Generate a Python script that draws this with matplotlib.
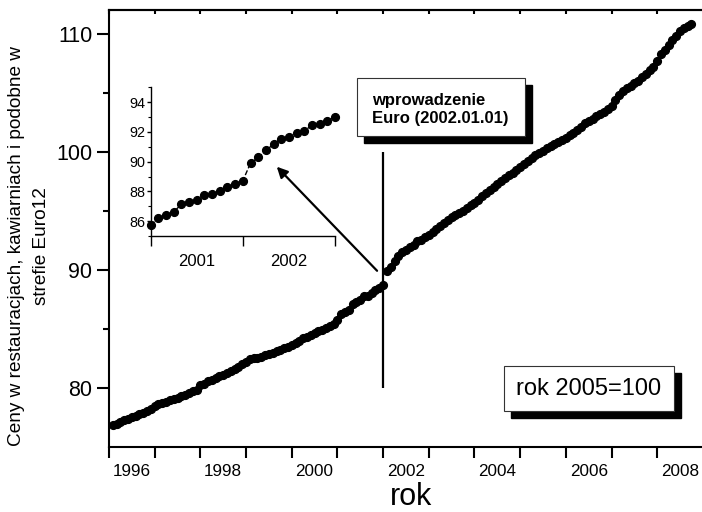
import matplotlib
matplotlib.use("Agg")
import matplotlib.pyplot as plt
from matplotlib.patches import Rectangle

plt.rcParams['font.family'] = ['Liberation Sans', 'DejaVu Sans']

# monthly index (2005=100), Jan..Dec of each year
v1996 = [76.85, 76.95, 77.1, 77.3, 77.4, 77.55, 77.65, 77.8, 77.9, 78.05, 78.2, 78.45]
v1997 = [78.6, 78.75, 78.85, 78.95, 79.05, 79.15, 79.3, 79.4, 79.55, 79.75, 79.85, 80.25]
v1998 = [80.35, 80.55, 80.7, 80.85, 81.0, 81.1, 81.25, 81.4, 81.6, 81.8, 82.0, 82.2]
v1999 = [82.45, 82.5, 82.55, 82.65, 82.8, 82.9, 83.0, 83.1, 83.2, 83.35, 83.5, 83.6]
v2000 = [83.8, 84.0, 84.2, 84.35, 84.5, 84.65, 84.8, 84.9, 85.05, 85.25, 85.45, 85.73]
v2001 = [86.22, 86.4, 86.63, 87.13, 87.26, 87.42, 87.76, 87.8, 88.05, 88.28, 88.5, 88.72]
v2002 = [89.9, 90.28, 90.75, 91.18, 91.54, 91.68, 91.93, 92.08, 92.44, 92.55, 92.76, 92.98]
v2003 = [93.2, 93.45, 93.7, 93.95, 94.2, 94.45, 94.65, 94.85, 95.0, 95.2, 95.45, 95.7]
v2004 = [95.95, 96.25, 96.5, 96.75, 97.0, 97.3, 97.55, 97.8, 98.0, 98.2, 98.45, 98.7]
v2005 = [98.95, 99.2, 99.45, 99.7, 99.9, 100.1, 100.3, 100.5, 100.65, 100.8, 101.0, 101.2]
v2006 = [101.4, 101.6, 101.8, 102.1, 102.4, 102.6, 102.8, 103.0, 103.2, 103.4, 103.6, 103.9]
v2007 = [104.4, 104.8, 105.1, 105.4, 105.6, 105.8, 106.0, 106.3, 106.6, 106.9, 107.2, 107.7]
v2008 = [108.3, 108.6, 109.0, 109.5, 109.8, 110.2, 110.45, 110.65, 110.8]

years = list(range(1996, 2009))
series = [v1996, v1997, v1998, v1999, v2000, v2001, v2002,
          v2003, v2004, v2005, v2006, v2007, v2008]

main_ticklabels = ['1996', '1998', '2000', '2002', '2004', '2006', '2008']
inset_ticklabels = ['2001', '2002']
euro_date = 2002.0

x = []
y = []
for yr, vals in zip(years, series):
    for m, v in enumerate(vals, start=1):
        x.append(yr + m / 12)
        y.append(v)

W, H = 702, 512
fig = plt.figure(figsize=(W / 100, H / 100), dpi=100)


def box(px0, py0, px1, py1):
    return (px0 / W, 1 - py1 / H), (px1 - px0) / W, (py1 - py0) / H


# main axes
ax = fig.add_axes([109 / W, 1 - 447 / H, (702 - 109) / W, (447 - 10) / H])
ax.plot(x, y, 'o', color='k', ms=5.6, mec='k')
ax.set_xlim(1996, 2008.98)
ax.set_ylim(75, 112)
ax.spines['right'].set_visible(False)
for s in ['left', 'bottom', 'top']:
    ax.spines[s].set_linewidth(1.5)

ax.set_xticks(years, [''] * len(years))
ax.set_xticks([int(t) + 0.5 for t in main_ticklabels], main_ticklabels, minor=True)
ax.tick_params(axis='x', which='major', direction='out', length=8, width=1.5)
ax.tick_params(axis='x', which='minor', length=0, pad=12, labelsize=12.3)
ax.set_yticks([80, 90, 100, 110])
ax.set_yticks([85, 95, 105], minor=True)
ax.tick_params(axis='y', which='major', direction='out', length=9, width=1.5,
               labelsize=15.5, pad=3)
ax.tick_params(axis='y', which='minor', direction='out', length=4, width=1.5)

top = ax.secondary_xaxis('top')
top.set_xticks(years)
top.tick_params(direction='in', length=3, width=1.5, labeltop=False)
top.spines['top'].set_linewidth(1.5)

ax.vlines(euro_date, 80, 100, color='k', lw=1.6)
ax.annotate('', xy=(1999.63, 98.9), xytext=(2001.91, 89.75),
            arrowprops=dict(arrowstyle='-|>', color='k', lw=1.6, mutation_scale=16))

fig.text(17 / W, 1 - 246 / H, 'Ceny w restauracjach, kawiarniach i podobne w',
         rotation=90, ha='center', va='center', fontsize=13.7)
fig.text(41 / W, 1 - 246 / H, 'strefie Euro12',
         rotation=90, ha='center', va='center', fontsize=13.7)
fig.text(411 / W, 1 - 505 / H, 'rok', ha='center', va='baseline', fontsize=22)

# inset
axi = fig.add_axes([150.7 / W, 1 - 236 / H, (335 - 150.7) / W, (236 - 87.3) / H])
axi.patch.set_alpha(0)
xi = [a for a in x if 2000.99 < a < 2003.01]
yi = [b for a, b in zip(x, y) if 2000.99 < a < 2003.01]
axi.plot(xi, yi, '--', color='k', lw=1, zorder=1)
axi.plot(xi, yi, 'o', color='k', ms=5.6, zorder=2, clip_on=False)
axi.set_xlim(2001, 2003)
axi.set_ylim(85, 95)
axi.spines['right'].set_visible(False)
axi.spines['top'].set_visible(False)
for s in ['left', 'bottom']:
    axi.spines[s].set_linewidth(1)
axi.set_xticks([2001, 2002, 2003], ['', '', ''])
axi.set_xticks([2001.5, 2002.5], inset_ticklabels, minor=True)
axi.tick_params(axis='x', which='major', direction='out', length=7, width=1)
axi.tick_params(axis='x', which='minor', length=0, pad=13, labelsize=12)
axi.set_yticks([86, 88, 90, 92, 94])
axi.set_yticks([85, 87, 89, 91, 93, 95], minor=True)
axi.tick_params(axis='y', which='major', direction='out', length=3, width=1,
                labelsize=10.4, pad=1)
axi.tick_params(axis='y', which='minor', direction='out', length=2, width=0.8)

# text boxes with shadow
xy, w, h = box(364, 85, 532, 143)
fig.add_artist(Rectangle(xy, w, h, transform=fig.transFigure, color='k'))
xy, w, h = box(357, 78, 525, 136)
fig.add_artist(Rectangle(xy, w, h, transform=fig.transFigure, fc='white', ec='#333333', lw=0.8))
fig.text(372 / W, 1 - 110 / H, 'wprowadzenie\nEuro (2002.01.01)', fontweight='bold',
         fontsize=12, ha='left', va='center', linespacing=1.25)

xy, w, h = box(511, 373, 681, 418)
fig.add_artist(Rectangle(xy, w, h, transform=fig.transFigure, color='k'))
xy, w, h = box(504, 366, 674, 411)
fig.add_artist(Rectangle(xy, w, h, transform=fig.transFigure, fc='white', ec='#333333', lw=0.8))
fig.text(589 / W, 1 - 389 / H, 'rok 2005=100', fontsize=17, ha='center', va='center')

fig.savefig('out.png', dpi=100)
